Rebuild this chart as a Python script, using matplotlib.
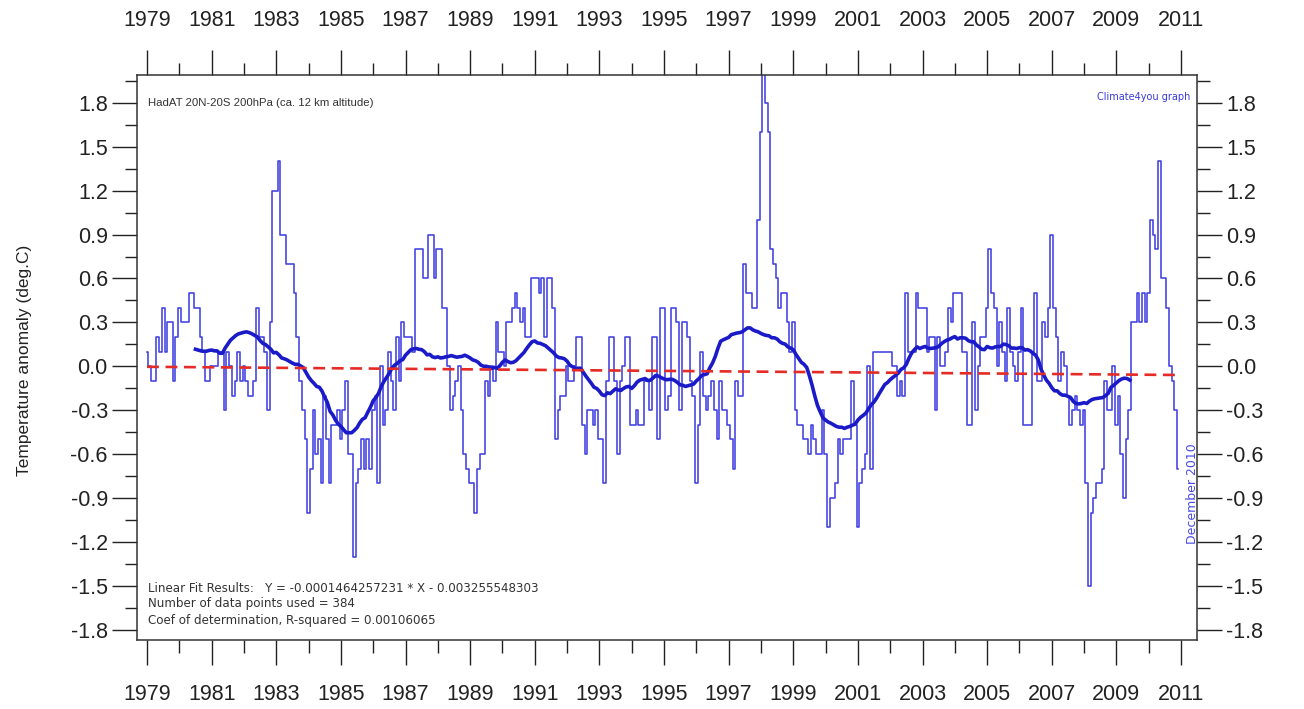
import numpy as np
import matplotlib
matplotlib.use("Agg")
import matplotlib.pyplot as plt
from matplotlib.ticker import FixedLocator, FuncFormatter

plt.rcParams['font.family'] = ['Liberation Sans', 'DejaVu Sans']

# Monthly temperature anomalies (deg C), HadAT 20N-20S 200 hPa, Jan 1979 - Dec 2010
anom_1979_1982 = [
    0.1, 0.0, -0.1, -0.1, 0.2, 0.1, 0.4, 0.1, 0.3, 0.3, -0.1, 0.2,
    0.4, 0.3, 0.3, 0.3, 0.5, 0.5, 0.4, 0.4, 0.2, 0.1, -0.1, -0.1,
    0.0, 0.0, 0.0, 0.1, 0.1, -0.3, 0.1, 0.0, -0.2, -0.1, 0.1, -0.1,
    0.0, -0.1, -0.2, -0.2, -0.1, 0.4, 0.2, 0.2, 0.1, -0.3, 0.3, 1.2,
]
anom_1983_1986 = [
    1.2, 1.4, 0.9, 0.9, 0.7, 0.7, 0.7, 0.5, 0.2, -0.1, -0.3, -0.5,
    -1.0, -0.7, -0.3, -0.6, -0.5, -0.8, -0.2, -0.5, -0.8, -0.4, -0.4, -0.3,
    -0.5, -0.3, -0.1, -0.6, -0.6, -1.3, -0.8, -0.7, -0.5, -0.7, -0.5, -0.7,
    -0.3, -0.2, -0.8, 0.0, -0.4, -0.3, 0.1, -0.1, -0.3, 0.2, -0.1, 0.3,
]
anom_1987_1990 = [
    0.2, 0.2, 0.2, 0.1, 0.8, 0.8, 0.8, 0.6, 0.6, 0.9, 0.9, 0.6,
    0.8, 0.8, 0.4, 0.4, 0.0, -0.3, -0.2, -0.1, 0.0, -0.3, -0.6, -0.7,
    -0.8, -0.8, -1.0, -0.7, -0.6, -0.6, -0.1, -0.2, 0.0, -0.1, 0.3, 0.1,
    0.1, 0.0, 0.3, 0.3, 0.4, 0.5, 0.4, 0.3, 0.4, 0.2, 0.2, 0.6,
]
anom_1991_1994 = [
    0.6, 0.6, 0.5, 0.6, 0.2, 0.6, 0.6, 0.4, -0.5, -0.3, -0.2, -0.2,
    0.0, -0.1, -0.1, 0.0, 0.2, 0.2, -0.4, -0.6, -0.3, -0.3, -0.4, -0.3,
    -0.5, -0.5, -0.8, -0.1, 0.2, 0.2, -0.1, -0.6, -0.1, 0.0, 0.2, 0.2,
    -0.4, -0.4, -0.3, -0.4, -0.4, -0.1, -0.1, -0.3, 0.2, 0.2, -0.5, 0.4,
]
anom_1995_1998 = [
    0.4, -0.3, -0.2, 0.4, 0.4, 0.3, -0.3, 0.3, 0.3, 0.2, -0.1, -0.2,
    -0.8, -0.4, 0.1, -0.2, -0.3, -0.2, -0.1, -0.3, -0.5, -0.1, -0.3, -0.3,
    -0.4, -0.5, -0.7, -0.1, -0.2, -0.2, 0.7, 0.5, 0.5, 0.4, 0.4, 1.0,
    1.6, 2.0, 1.8, 1.6, 0.8, 0.7, 0.6, 0.4, 0.5, 0.5, 0.3, 0.1,
]
anom_1999_2002 = [
    0.3, -0.3, -0.4, -0.4, -0.5, -0.5, -0.6, -0.4, -0.5, -0.6, -0.6, -0.3,
    -0.6, -1.1, -0.9, -0.9, -0.8, -0.5, -0.6, -0.5, -0.5, -0.5, -0.1, -0.4,
    -1.1, -0.8, -0.7, -0.6, 0.0, -0.7, 0.1, 0.1, 0.1, 0.1, 0.1, 0.1,
    0.1, 0.0, 0.0, -0.2, -0.1, -0.2, 0.5, 0.1, 0.1, 0.1, 0.5, 0.4,
]
anom_2003_2006 = [
    0.4, 0.4, 0.1, 0.2, 0.2, -0.3, 0.2, 0.0, 0.0, 0.1, 0.4, 0.3,
    0.5, 0.5, 0.5, 0.1, 0.1, -0.4, -0.4, 0.3, -0.3, 0.0, 0.2, 0.2,
    0.4, 0.8, 0.5, 0.4, 0.0, 0.3, 0.1, -0.1, 0.4, 0.1, 0.0, -0.1,
    0.1, 0.4, -0.4, -0.4, -0.4, 0.1, 0.5, -0.1, -0.1, 0.3, 0.2, 0.4,
]
anom_2007_2010 = [
    0.9, 0.4, 0.2, -0.1, 0.1, 0.0, -0.2, -0.4, -0.3, -0.2, -0.3, -0.4,
    -0.3, -0.8, -1.5, -1.0, -0.9, -0.8, -0.8, -0.7, -0.1, -0.3, -0.3, 0.0,
    -0.4, -0.2, -0.6, -0.9, -0.5, -0.3, 0.3, 0.3, 0.5, 0.3, 0.5, 0.3,
    0.5, 1.0, 0.9, 0.8, 1.4, 0.6, 0.6, 0.4, 0.0, -0.1, -0.3, -0.7,
]

# Linear fit results as printed on the chart
fit_slope = -0.0001464257231
fit_intercept = -0.003255548303
r_squared = 0.00106065
running_window = 37

x_major_years = list(range(1979, 2012, 2))
x_minor_years = list(range(1980, 2011, 2))
y_major_ticks = [-1.8, -1.5, -1.2, -0.9, -0.6, -0.3, 0.0, 0.3, 0.6, 0.9, 1.2, 1.5, 1.8]
y_minor_ticks = [-1.65, -1.35, -1.05, -0.75, -0.45, -0.15, 0.15, 0.45, 0.75, 1.05, 1.35, 1.65, 1.95]

values = np.array(anom_1979_1982 + anom_1983_1986 + anom_1987_1990 + anom_1991_1994
                  + anom_1995_1998 + anom_1999_2002 + anom_2003_2006 + anom_2007_2010)
n = len(values)
t = 1979 + np.arange(n) / 12.0

fig = plt.figure(figsize=(13.04, 7.09), dpi=100)
ax = fig.add_axes([137 / 1304, 1 - 640 / 709, 1060 / 1304, 565 / 709])

ax.step(t, values, where='mid', color='#4040e0', lw=1.15, zorder=2)

half = running_window // 2
rm = np.convolve(values, np.ones(running_window) / running_window, mode='valid')
ax.plot(t[half:n - half], rm, color='#1a1ac8', lw=2.6, zorder=3)

X = np.arange(1, n + 1)
ax.plot(t, fit_slope * X + fit_intercept, color='#e52b25', lw=1.9,
        ls=(0, (4.5, 2.5)), zorder=4)

ax.set_xlim(1978.69, 2011.495)
ax.set_ylim(-1.87, 1.99)

ax.xaxis.set_major_locator(FixedLocator(x_major_years))
ax.xaxis.set_minor_locator(FixedLocator(x_minor_years))
ax.yaxis.set_major_locator(FixedLocator(y_major_ticks))
ax.yaxis.set_minor_locator(FixedLocator(y_minor_ticks))
ax.xaxis.set_major_formatter(FuncFormatter(lambda v, p: f"{int(round(v))}"))
ax.yaxis.set_major_formatter(FuncFormatter(lambda v, p: f"{0.0 if abs(v) < 1e-9 else v:.1f}"))

ax.tick_params(axis='both', which='major', direction='out', length=18, width=1.0,
               labelsize=15.5, colors='#222222', top=True, right=True,
               labeltop=True, labelright=True)
ax.tick_params(axis='both', which='minor', direction='out', length=9, width=1.0,
               colors='#222222', top=True, right=True)
ax.tick_params(axis='x', which='major', pad=14)
ax.tick_params(axis='y', which='major', pad=3)

for s in ax.spines.values():
    s.set_color('#333333')
    s.set_linewidth(1.1)

ax.text(0.0104, 0.950, "HadAT 20N-20S 200hPa (ca. 12 km altitude)", transform=ax.transAxes,
        fontsize=8.2, color='#333333', ha='left', va='center')
ax.text(0.9934, 0.961, "Climate4you graph", transform=ax.transAxes,
        fontsize=7, color='#3a3ae0', ha='right', va='center', family='DejaVu Sans')
ax.text(2011.36, -0.87, "December 2010", rotation=90, fontsize=9, color='#4a4ae6',
        ha='center', va='center', family='DejaVu Sans')

ax.text(0.0104, 0.092, f"Linear Fit Results:   Y = {fit_slope:.13f} * X - {abs(fit_intercept):.12f}",
        transform=ax.transAxes, fontsize=8.6, color='#333333', ha='left', va='center',
        family='DejaVu Sans')
ax.text(0.0104, 0.064, f"Number of data points used = {n}",
        transform=ax.transAxes, fontsize=8.6, color='#333333', ha='left', va='center',
        family='DejaVu Sans')
ax.text(0.0104, 0.035, f"Coef of determination, R-squared = {r_squared:.8f}",
        transform=ax.transAxes, fontsize=8.6, color='#333333', ha='left', va='center',
        family='DejaVu Sans')

fig.text(25 / 1304, 1 - 360 / 709, "Temperature anomaly (deg.C)", rotation=90,
         fontsize=12.5, color='#222222', ha='center', va='center')

fig.savefig("out.png", dpi=100)
